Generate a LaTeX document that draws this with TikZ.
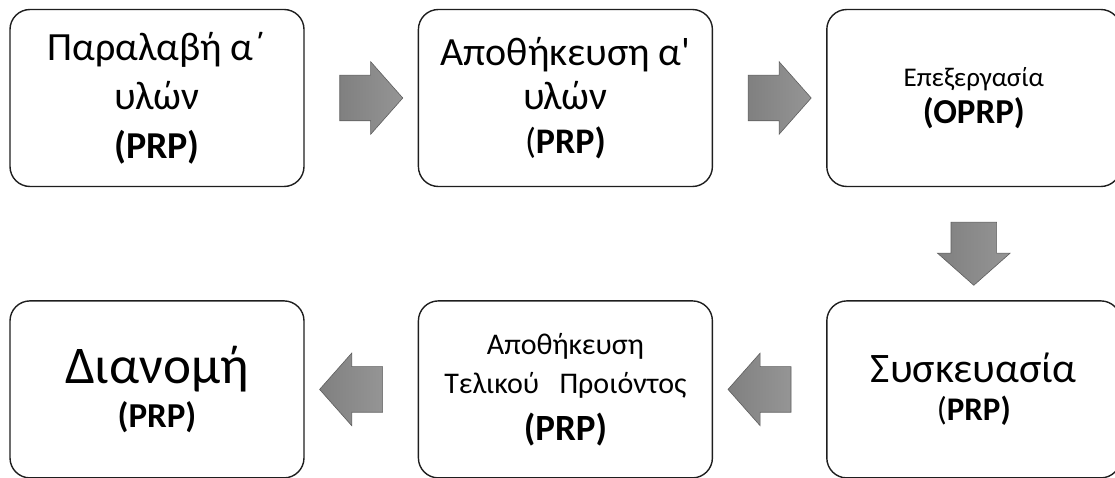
\documentclass[tikz,border=0pt]{standalone}
\usepackage{fontspec}
\setmainfont{Carlito}[Ligatures=TeXOff]
\usetikzlibrary{positioning,shapes.arrows,calc}
\definecolor{boxline}{HTML}{1E1E1E}
\definecolor{arrowdark}{HTML}{808080}
\definecolor{arrowlight}{HTML}{959595}
\definecolor{arrowedge}{HTML}{5E5E5E}
\setlength{\lineskiplimit}{-50pt}

\begin{document}
\begin{tikzpicture}[
  x=1pt, y=-1pt,
  stage/.style={draw=boxline, line width=1.4pt, rounded corners=20pt, minimum width=294pt, minimum height=177pt, inner sep=0pt, align=center},
  flow/.style={single arrow, draw=arrowedge, line width=0.6pt, left color=arrowdark, right color=arrowlight, inner xsep=0pt, inner ysep=22.5pt, minimum height=63pt, single arrow head extend=13.5pt, single arrow tip angle=97},
  node distance=113pt
]
\useasboundingbox (0,0) rectangle (1115,478);

% Top row
\node[stage, font=\fontsize{40}{49}\selectfont] (recv) at (157,98) {Παραλαβή α΄\\υλών\\{\fontsize{38}{49}\selectfont\bfseries (PRP)}};
\node[stage, font=\fontsize{40}{44}\selectfont, right=of recv] (store) {Αποθήκευση α'\\υλών\\{\fontsize{36}{43}\selectfont(\textbf{PRP)}}};
\node[stage, font=\fontsize{27}{37}\selectfont, right=of store] (proc) {Επεξεργασία\\{\fontsize{35}{37}\selectfont\bfseries (OPRP)}};

% Bottom row
\node[stage, font=\fontsize{42}{38}\selectfont, below=of proc] (pack) {Συσκευασία\\{\fontsize{33}{38}\selectfont(\textbf{PRP)}}};
\node[stage, font=\fontsize{30}{39}\selectfont, left=of pack] (final) {Αποθήκευση\\Τελικού\ \ \ Προιόντος\\[8pt]{\fontsize{37}{40}\selectfont\bfseries (PRP)}};
\node[stage, font=\fontsize{53}{44}\selectfont, left=of final] (dist) {Διανομή\\{\fontsize{35}{36}\selectfont\bfseries (PRP)}};

% Block arrows
\node[flow] (a1) at ($(recv.east)!0.5!(store.west)$) {};
\node[flow] (a2) at ($(store.east)!0.5!(proc.west)$) {};
\node[flow, rotate=-90] (a3) at ($(proc.south)!0.5!(pack.north)$) {};
\node[flow, rotate=180] (a4) at ($(pack.west)!0.5!(final.east)$) {};
\node[flow, rotate=180] (a5) at ($(final.west)!0.5!(dist.east)$) {};
\end{tikzpicture}
\end{document}
